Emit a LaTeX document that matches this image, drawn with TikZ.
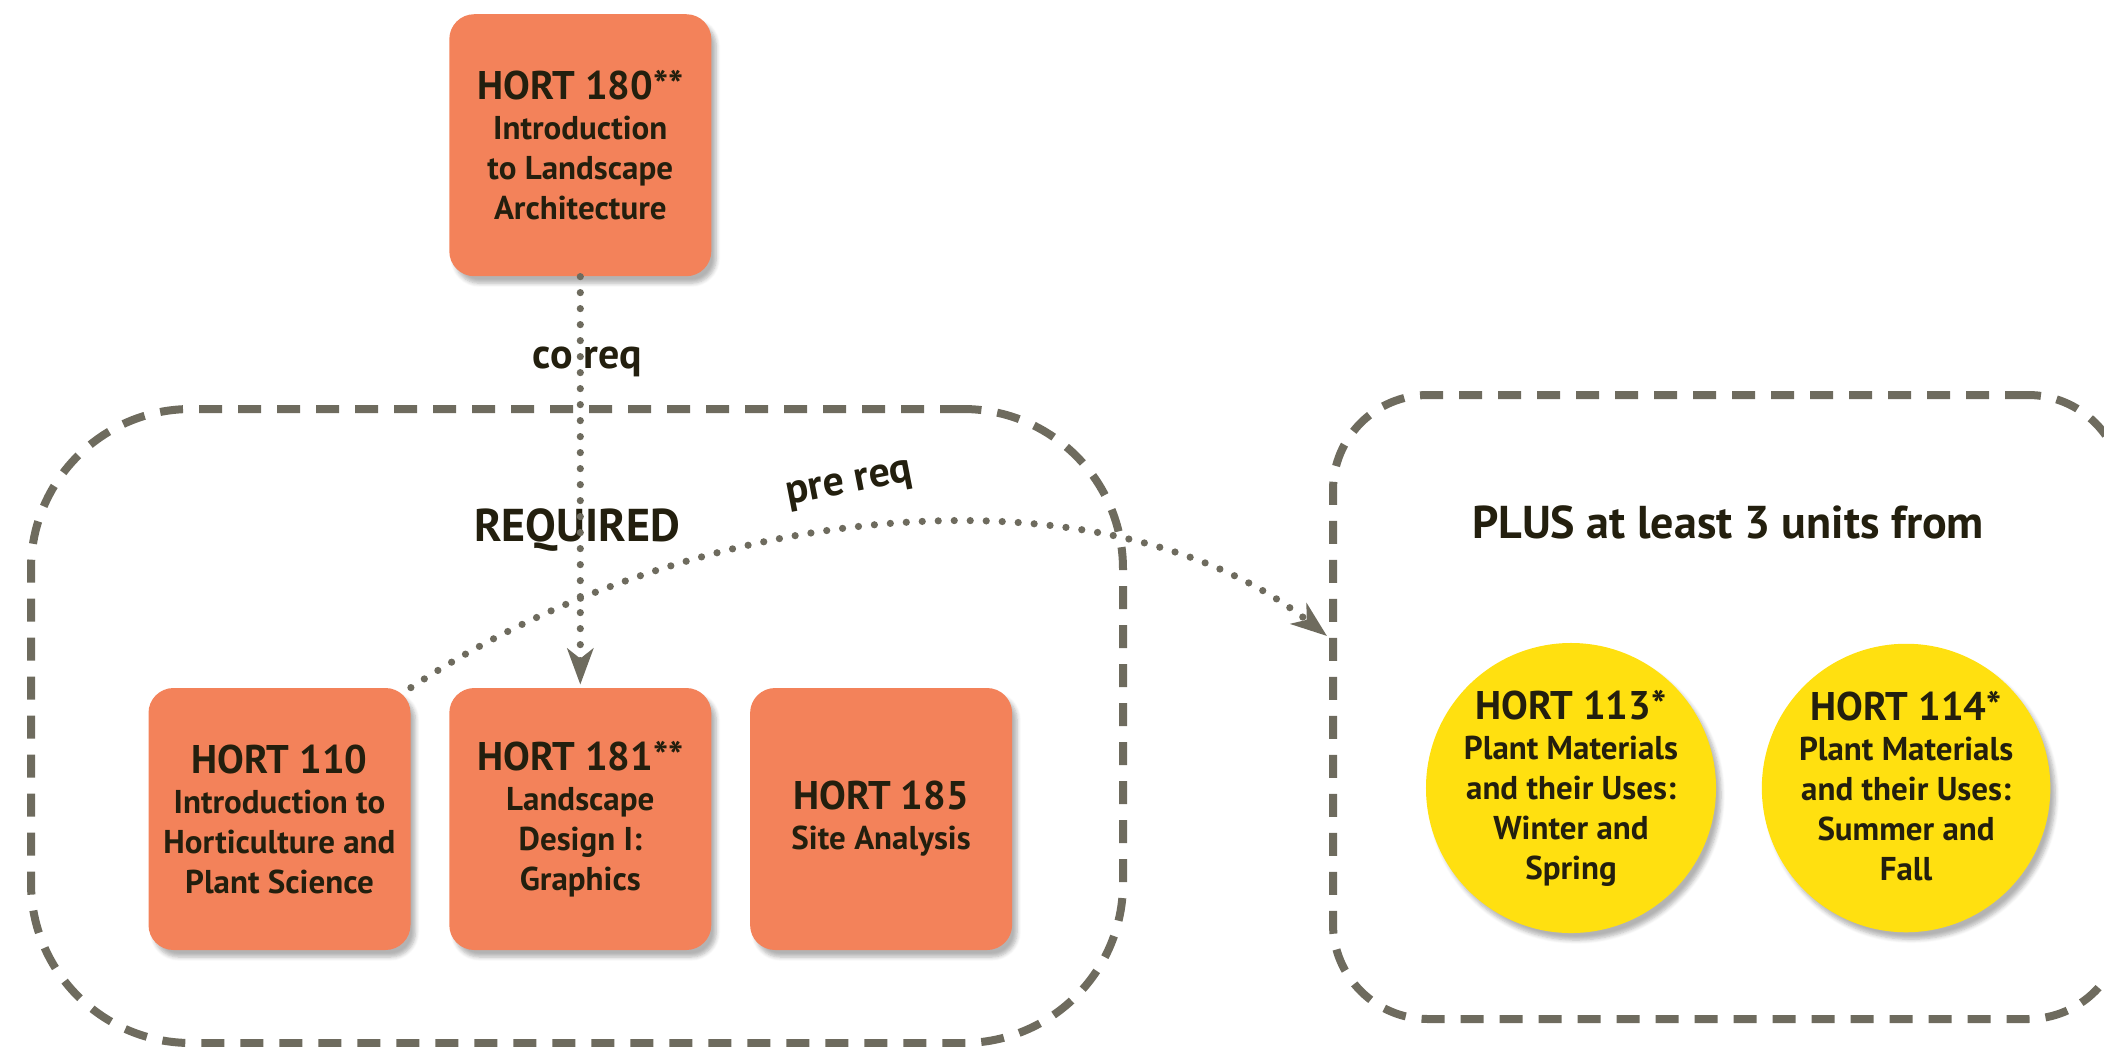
\documentclass[tikz,border=0pt]{standalone}
\usepackage{fontspec}
\setmainfont{PT Sans}
\usepackage{xcolor}
\usetikzlibrary{arrows.meta,positioning,shadows.blur}

\definecolor{coursefill}{HTML}{F3825A}
\definecolor{electivefill}{HTML}{FFE010}
\definecolor{inkdark}{HTML}{231F0E}
\definecolor{linegray}{HTML}{6E6B5E}

\newcommand{\hortnum}[1]{{\fontsize{20}{20}\selectfont #1}}

\begin{document}
\begin{tikzpicture}[x=0.5pt,y=-0.5pt,
  every node/.style={text=inkdark, font=\bfseries},
  course/.style={fill=coursefill, rounded corners=12.5pt, minimum width=131pt,
    minimum height=131pt, inner sep=0pt, align=center,
    font=\bfseries\fontsize{16.5}{20}\selectfont,
    blur shadow={shadow xshift=2.5pt, shadow yshift=-3.5pt, shadow opacity=30, shadow blur steps=6}},
  elective/.style={course, circle, fill=electivefill, minimum size=134pt},
  groupbox/.style={draw=linegray, line width=4pt, dash pattern=on 11.5pt off 8pt},
  grouplabel/.style={font=\bfseries\fontsize{23}{23}\selectfont},
  reqlink/.style={draw=linegray, line width=3.6pt, line cap=round, dash pattern=on 0pt off 8pt,
    -{Stealth[length=18pt, width=13pt, inset=5pt]}},
  reqlabel/.style={font=\bfseries\fontsize{21}{21}\selectfont}]

  \useasboundingbox (0,0) rectangle (2104,1046);

  % dashed groups
  \node[groupbox, minimum width=546pt, minimum height=317pt, rounded corners=80pt] (required) at (577,726) {};
  \node[groupbox, minimum width=395pt, minimum height=312pt, rounded corners=47.5pt] (plus) at (1728,707) {};
  \node[grouplabel] (requiredlabel) at (577,530) {REQUIRED};
  \node[grouplabel] (pluslabel) at (1728,522) {PLUS at least 3 units from};

  % required courses
  \node[course] (h110) at (279.5,819) {\hortnum{HORT 110}\\Introduction to\\Horticulture and\\Plant Science};
  \node[course, right=19pt of h110] (h181) {\hortnum{HORT 181**}\\Landscape\\Design I:\\Graphics};
  \node[course, right=19pt of h181] (h185) {\hortnum{HORT 185}\\Site Analysis};
  \node[course, above=205.5pt of h181] (h180) {\hortnum{HORT 180**}\\Introduction\\to Landscape\\Architecture};

  % electives
  \node[elective] (h113) at (1571,788) {\hortnum{HORT 113*}\\Plant Materials\\and their Uses:\\Winter and\\Spring};
  \node[elective, right=22.5pt of h113, text depth=2pt] (h114) {\hortnum{HORT 114*}\\Plant Materials\\and their Uses:\\Summer and\\Fall};

  % links
  \draw[reqlink, shorten >=1.5pt] (h180.south) -- node[reqlabel, pos=0.207, xshift=3.5pt] (coreq) {co req} (h181.north);
  \coordinate (pretip) at (1327,636);
  \draw[reqlink] (h110.north east) .. controls (699,497) and (1106,462) .. (pretip);
  \node[reqlabel, rotate=11] (prereq) at (850,486) {pre req};
\end{tikzpicture}
\end{document}
